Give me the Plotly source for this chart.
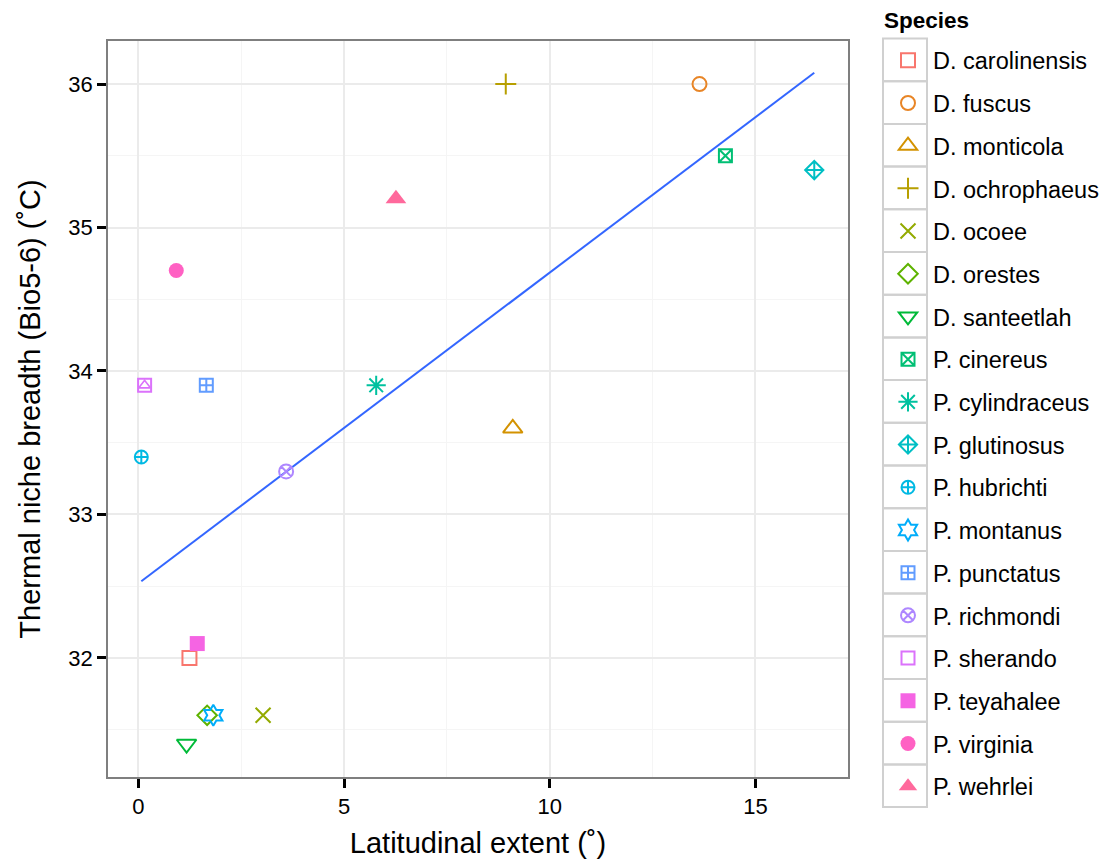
import math
import numpy as np
import plotly.graph_objects as go

species = ["D. carolinensis", "D. fuscus", "D. monticola", "D. ochrophaeus", "D. ocoee",
           "D. orestes", "D. santeetlah", "P. cinereus", "P. cylindraceus", "P. glutinosus",
           "P. hubrichti", "P. montanus", "P. punctatus", "P. richmondi", "P. sherando",
           "P. teyahalee", "P. virginia", "P. wehrlei"]
lat_extent = [1.24, 13.64, 9.10, 8.93, 3.03, 1.67, 1.17, 14.27, 5.78, 16.43,
              0.07, 1.82, 1.65, 3.59, 0.15, 1.43, 0.92, 6.26]
niche_breadth = [32.0, 36.0, 33.6, 36.0, 31.6, 31.6, 31.4, 35.5, 33.9, 35.4,
                 33.4, 31.6, 33.9, 33.3, 33.9, 32.1, 34.7, 35.2]
x_ticks = [0, 5, 10, 15]
y_ticks = [32, 33, 34, 35, 36]

# marker style per species: (plotly symbol, size, outline width)
STYLE = {
    "D. carolinensis": ("square-open", 14, 2),
    "D. fuscus": ("circle-open", 14, 2),
    "D. monticola": ("triangle-up-open", 17, 2),
    "D. ochrophaeus": ("cross-thin-open", 15, 2),
    "D. ocoee": ("x-thin-open", 15, 2),
    "D. orestes": ("diamond-open", 15, 2),
    "D. santeetlah": ("triangle-down-open", 17, 2),
    "P. cinereus": ("square-x-open", 13, 2),
    "P. cylindraceus": ("asterisk-open", 16, 2),
    "P. glutinosus": ("diamond-cross-open", 14, 2),
    "P. hubrichti": ("circle-cross-open", 13, 2),
    "P. montanus": ("hexagram-open", 16, 2),
    "P. punctatus": ("square-cross-open", 13, 2),
    "P. richmondi": ("circle-x-open", 14, 2),
    "P. sherando": ("square-open", 13, 2),
    "P. teyahalee": ("square", 15, 0),
    "P. virginia": ("circle", 15, 0),
    "P. wehrlei": ("triangle-up", 18, 0),
}


def hcl(h, c=100.0, l=65.0):
    Xn, Yn, Zn = 95.047, 100.0, 108.883
    hr = math.radians(h)
    U, V = c * math.cos(hr), c * math.sin(hr)
    Y = Yn * ((l + 16) / 116) ** 3
    den = Xn + 15 * Yn + 3 * Zn
    un, vn = 4 * Xn / den, 9 * Yn / den
    Q = U / (13 * l) + un
    R = V / (13 * l) + vn
    X = 9.0 * Y * Q / (4.0 * R)
    Z = -X / 3.0 - 5.0 * Y + 3.0 * Y / R
    X, Y, Z = X / 100, Y / 100, Z / 100
    r = 3.240479 * X - 1.537150 * Y - 0.498535 * Z
    g = -0.969256 * X + 1.875992 * Y + 0.041556 * Z
    b = 0.055648 * X - 0.204043 * Y + 1.057311 * Z

    def gam(v):
        v = 1.055 * v ** (1 / 2.4) - 0.055 if v > 0.0031308 else 12.92 * v
        return int(round(min(max(v, 0), 1) * 255))
    return "#%02X%02X%02X" % (gam(r), gam(g), gam(b))


n = len(species)
colors = [hcl(15 + 360.0 / n * i) for i in range(n)]

FONT = "Liberation Sans, Arial, Helvetica, sans-serif"
fig = go.Figure()

# regression line (lm)
slope, intercept = np.polyfit(lat_extent, niche_breadth, 1)
xs = np.array([min(lat_extent), max(lat_extent)])
fig.add_trace(go.Scatter(x=xs, y=slope * xs + intercept, mode="lines",
                         line=dict(color="#3366FF", width=2), showlegend=False,
                         hoverinfo="skip"))

for i, sp in enumerate(species):
    sym, sz, lw = STYLE[sp]
    fig.add_trace(go.Scatter(
        x=[lat_extent[i]], y=[niche_breadth[i]], mode="markers", name=sp,
        legendgroup=sp,
        marker=dict(symbol=sym, size=sz, color=colors[i],
                    line=dict(color=colors[i], width=lw)),
    ))
    if sp == "P. sherando":
        fig.add_trace(go.Scatter(
            x=[lat_extent[i]], y=[niche_breadth[i]], mode="markers", showlegend=False,
            legendgroup=sp,
            marker=dict(symbol="triangle-up-open", size=10, color=colors[i],
                        line=dict(color=colors[i], width=1.6)),
        ))

# legend key boxes
L, T, W, H = 108, 41, 740, 736
STEP = 42.7
shapes = []
for i in range(n):
    top = 38.5 + STEP * i
    shapes.append(dict(type="rect", xref="paper", yref="paper",
                       x0=(883 - L) / W, x1=(927 - L) / W,
                       y0=(T + H - top) / H, y1=(T + H - top - STEP) / H,
                       line=dict(color="#D0D0D0", width=2), fillcolor="rgba(0,0,0,0)",
                       layer="below"))

fig.update_layout(
    width=1106, height=861,
    margin=dict(l=108, r=258, t=41, b=84, autoexpand=False),
    paper_bgcolor="white", plot_bgcolor="white",
    font=dict(family=FONT, color="black"),
    shapes=shapes,
    annotations=[dict(text="<b>Species</b>", xref="paper", yref="paper",
                      x=(882 - L) / W, y=(T + H - 21) / H, xanchor="left", yanchor="middle",
                      showarrow=False, font=dict(size=22.5, family=FONT, color="black"))],
    legend=dict(
        font=dict(size=23.5), x=(883 - L) / W, xanchor="left", y=1.0034, yanchor="top",
        tracegroupgap=9.15, itemwidth=40, bgcolor="rgba(0,0,0,0)", maxheight=900,
    ),
    xaxis=dict(
        title=dict(text="Latitudinal extent (˚)", font=dict(size=29), standoff=15),
        range=[-0.74, 17.25], tickvals=x_ticks, ticktext=[str(v) for v in x_ticks],
        tickfont=dict(size=22), ticks="outside", ticklen=9, tickcolor="black", tickwidth=2.5,
        showline=True, linecolor="#7F7F7F", linewidth=1.5, mirror=True,
        showgrid=True, gridcolor="#EBEBEB", gridwidth=1.5, zeroline=False,
        minor=dict(showgrid=True, gridcolor="#F5F5F5", gridwidth=1, dtick=2.5, tick0=0),
    ),
    yaxis=dict(
        title=dict(text="Thermal niche breadth (Bio5-6) (˚C)", font=dict(size=29), standoff=19),
        range=[31.17, 36.30], tickvals=y_ticks, ticktext=[str(v) for v in y_ticks],
        tickfont=dict(size=22), ticks="outside", ticklen=9, tickcolor="black", tickwidth=2.5,
        showline=True, linecolor="#7F7F7F", linewidth=1.5, mirror=True,
        showgrid=True, gridcolor="#EBEBEB", gridwidth=1.5, zeroline=False,
        minor=dict(showgrid=True, gridcolor="#F5F5F5", gridwidth=1, dtick=0.5, tick0=31.5),
    ),
)

fig.write_html("out.html")
